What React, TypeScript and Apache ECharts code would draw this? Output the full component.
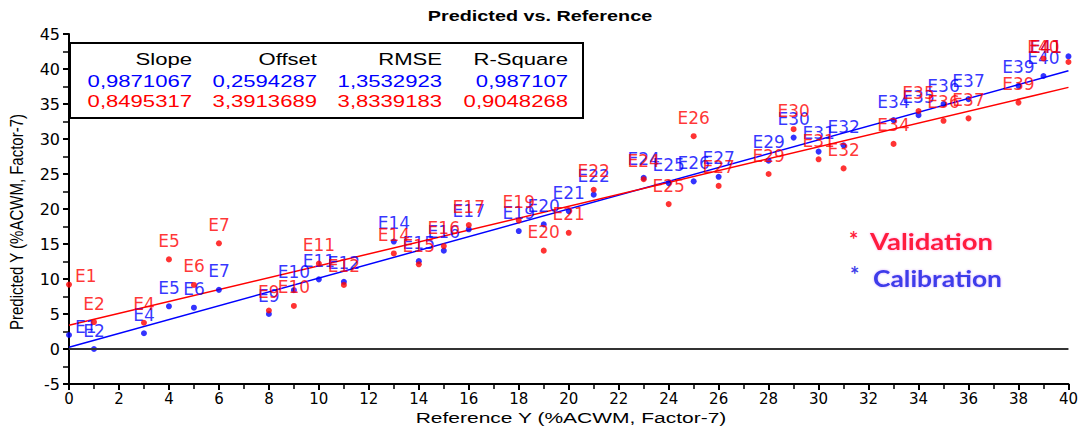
import React, { useEffect, useRef } from "react";
import * as echarts from "echarts";

// Sample identifiers and their reference values (%ACWM, Factor-7)
const sampleIds = [
  "E1", "E2", "E4", "E5", "E6", "E7", "E9", "E10", "E11", "E12", "E14",
  "E15", "E16", "E17", "E19", "E20", "E21", "E22", "E24", "E25", "E26",
  "E27", "E29", "E30", "E31", "E32", "E34", "E35", "E36", "E37", "E39",
  "E40", "E41",
];
const referenceY = [
  0, 1, 3, 4, 5, 6, 8, 9, 10, 11, 13, 14, 15, 16, 18, 19, 20, 21, 23, 24,
  25, 26, 28, 29, 30, 31, 33, 34, 35, 36, 38, 39, 40,
];
// Predicted values from the calibration model
const calibrationY = [
  2.0, 0.0, 2.25, 6.1, 5.9, 8.45, 5.0, 8.4, 9.95, 9.6, 15.35, 12.55, 14.05,
  17.1, 16.85, 17.8, 19.7, 22.05, 24.45, 23.7, 23.95, 24.6, 26.9, 30.2,
  28.2, 29.1, 32.7, 33.4, 35.0, 35.7, 37.6, 39.0, 41.8,
];
// Predicted values for the validation samples
const validationY = [
  9.2, 3.85, 3.75, 12.8, 9.15, 15.1, 5.5, 6.15, 12.2, 9.15, 13.65, 12.1,
  14.7, 17.7, 18.35, 14.05, 16.6, 22.75, 24.25, 20.7, 30.4, 23.3, 25.0,
  31.4, 27.1, 25.8, 29.3, 34.0, 32.6, 32.95, 35.2, 41.5, 41.0,
];

// Fit statistics: Slope, Offset, RMSE, R-Square
const statHeaders = ["Slope", "Offset", "RMSE", "R-Square"];
const calibrationStats = [0.9871067, 0.2594287, 1.3532923, 0.987107];
const validationStats = [0.8495317, 3.3913689, 3.8339183, 0.9048268];

const xMin = 0;
const xMax = 40;
const yMin = -5;
const yMax = 45;

const W = 1081;
const H = 434;
const GRID = { left: 69, right: 1070, top: 34, bottom: 384 };

const RED = "#ff0000";
const BLUE = "#0000ff";

const fmt = (v: number) => String(v).replace(".", ",");

const fitLine = (stats: number[]) => [
  [xMin, stats[1]],
  [xMax, stats[0] * xMax + stats[1]],
];

// Keep point labels inside the plot frame
const keepInside = (p: any) => {
  const r = p.labelRect;
  let dx = 0;
  let dy = 0;
  if (r.x < GRID.left + 6) {
    dx = GRID.left + 6 - r.x;
    dy = 10;
  }
  if (r.x + r.width > GRID.right - 8) {
    dx = GRID.right - 8 - (r.x + r.width);
  }
  if (r.y + dy < GRID.top + 4) {
    dy = GRID.top + 4 - r.y;
  }
  return { dx, dy };
};

const pointLabel = (color: string) => ({
  show: true,
  position: "top",
  distance: 7,
  formatter: (p: any) => sampleIds[p.dataIndex],
  color,
  fontFamily: "DejaVu Sans",
  fontSize: 17,
});

export default function App() {
  const ref = useRef<HTMLDivElement>(null);

  useEffect(() => {
    if (!ref.current) return;
    const chart = echarts.init(ref.current, null, { renderer: "svg" });

    const colRight = [192, 317, 442, 568];
    const rowY = [59, 81, 100.5];
    const tableFont = { fontFamily: "Liberation Sans", fontSize: 17 };

    const tableTexts: any[] = [];
    const rows: [string[], string][] = [
      [statHeaders, "#000"],
      [calibrationStats.map(fmt), BLUE],
      [validationStats.map(fmt), RED],
    ];
    rows.forEach(([cells, color], ri) => {
      cells.forEach((t, ci) => {
        tableTexts.push({
          type: "text",
          x: colRight[ci],
          y: rowY[ri],
          scaleX: 1.3,
          z: 101,
          style: {
            text: t,
            ...tableFont,
            fill: color,
            align: "right",
            verticalAlign: "middle",
          },
        });
      });
    });

    const legendFont = {
      fontFamily: "Lato",
      fontWeight: "bold",
      fontSize: 22,
    };

    chart.setOption({
      animation: false,
      backgroundColor: "#fff",
      grid: {
        left: GRID.left,
        right: W - GRID.right,
        top: GRID.top,
        bottom: H - GRID.bottom,
        containLabel: false,
      },
      xAxis: {
        type: "value",
        min: xMin,
        max: xMax,
        interval: 2,
        axisLine: { show: true, onZero: false, lineStyle: { color: "#000", width: 2 } },
        axisTick: { show: true, length: 6, lineStyle: { color: "#000", width: 2 } },
        minorTick: { show: true, splitNumber: 2, length: 5, lineStyle: { color: "#000", width: 1.5 } },
        splitLine: { show: false },
        axisLabel: { color: "#000", fontFamily: "DejaVu Sans", fontSize: 15, margin: 7 },
      },
      yAxis: {
        type: "value",
        min: yMin,
        max: yMax,
        interval: 5,
        axisLine: { show: true, onZero: false, lineStyle: { color: "#000", width: 2 } },
        axisTick: { show: true, length: 6, lineStyle: { color: "#000", width: 2 } },
        minorTick: { show: true, splitNumber: 2, length: 6, lineStyle: { color: "#000", width: 1.5 } },
        splitLine: { show: false },
        axisLabel: { color: "#000", fontFamily: "DejaVu Sans", fontSize: 16, margin: 9 },
      },
      series: [
        {
          name: "Calibration fit",
          type: "line",
          data: fitLine(calibrationStats),
          symbol: "none",
          lineStyle: { color: BLUE, width: 1.5 },
          z: 2,
          markLine: {
            silent: true,
            symbol: ["none", "none"],
            label: { show: false },
            lineStyle: { color: "#333", width: 2, type: "solid" },
            data: [{ yAxis: 0 }],
          },
        },
        {
          name: "Validation fit",
          type: "line",
          data: fitLine(validationStats),
          symbol: "none",
          lineStyle: { color: RED, width: 1.5 },
          z: 2,
        },
        {
          name: "Calibration",
          type: "scatter",
          data: referenceY.map((x, i) => [x, calibrationY[i]]),
          symbolSize: 6,
          itemStyle: { color: BLUE },
          label: pointLabel(BLUE),
          labelLayout: keepInside,
          z: 3,
        },
        {
          name: "Validation",
          type: "scatter",
          data: referenceY.map((x, i) => [x, validationY[i]]),
          symbolSize: 6,
          itemStyle: { color: RED },
          label: pointLabel(RED),
          labelLayout: keepInside,
          z: 4,
        },
      ],
      graphic: [
        {
          type: "text",
          x: 540,
          y: 16,
          scaleX: 1.32,
          style: {
            text: "Predicted vs. Reference",
            fontFamily: "Liberation Sans",
            fontWeight: "bold",
            fontSize: 15,
            fill: "#000",
            align: "center",
            verticalAlign: "middle",
          },
        },
        {
          type: "text",
          x: 571,
          y: 418,
          scaleX: 1.4,
          style: {
            text: "Reference Y (%ACWM, Factor-7)",
            fontFamily: "Liberation Sans",
            fontSize: 15,
            fill: "#000",
            align: "center",
            verticalAlign: "middle",
          },
        },
        {
          type: "text",
          x: 17,
          y: 222,
          rotation: Math.PI / 2,
          scaleY: 1.25,
          style: {
            text: "Predicted Y (%ACWM, Factor-7)",
            fontFamily: "Liberation Sans",
            fontSize: 15,
            fill: "#000",
            align: "center",
            verticalAlign: "middle",
          },
        },
        {
          type: "rect",
          z: 100,
          shape: { x: 70, y: 43, width: 513, height: 75 },
          style: { fill: "#fff", stroke: "#000", lineWidth: 2 },
        },
        ...tableTexts,
        {
          type: "text",
          x: 849,
          y: 228,
          style: { text: "*", ...legendFont, fontSize: 22, fill: "#ff1f3d", align: "left", verticalAlign: "top" },
        },
        {
          type: "text",
          x: 870,
          y: 241,
          scaleX: 1.25,
          style: {
            text: "Validation",
            ...legendFont,
            fill: "#ff1f3d",
            align: "left",
            verticalAlign: "middle",
            textShadowColor: "rgba(255,60,200,0.45)",
            textShadowBlur: 2,
          },
        },
        {
          type: "text",
          x: 850,
          y: 263,
          style: { text: "*", ...legendFont, fontSize: 22, fill: "#3d3dea", align: "left", verticalAlign: "top" },
        },
        {
          type: "text",
          x: 873,
          y: 278,
          scaleX: 1.2,
          style: {
            text: "Calibration",
            ...legendFont,
            fill: "#3d3dea",
            align: "left",
            verticalAlign: "middle",
            textShadowColor: "rgba(150,60,255,0.45)",
            textShadowBlur: 2,
          },
        },
      ],
    });

    return () => {
      chart.dispose();
    };
  }, []);

  return (
    <div
      ref={ref}
      style={{ position: "fixed", left: 0, top: 0, width: W, height: H }}
    />
  );
}
